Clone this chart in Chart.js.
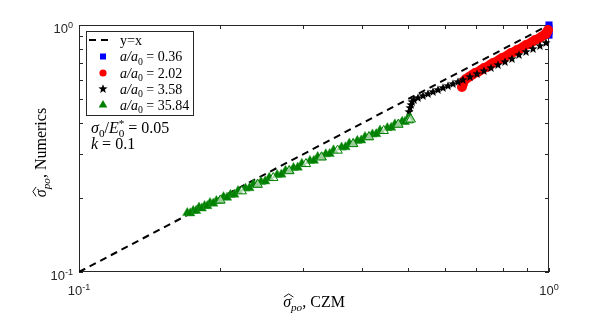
<!DOCTYPE html>
<html><head><meta charset="utf-8">
<script src="https://cdn.jsdelivr.net/npm/chart.js@4/dist/chart.umd.min.js"></script>
<style>html,body{margin:0;padding:0;background:#fff;}#wrap{width:606px;height:320px;position:relative;}</style>
</head><body><div id="wrap"><canvas id="c" width="606" height="320"></canvas></div>
<script>
// ---------- data ----------
const refLineX = [0.1, 1.0];
const refLineY = [0.1, 1.0];

const blueX = [1.0, 1.0, 1.0, 1.0];
const blueY = [1.0, 0.97, 0.94, 0.91];

const redX = [0.6528,0.6559,0.6592,0.6656,0.6755,0.6856,0.6958,0.7060,0.7165,0.7270,0.7379,0.7488,0.7599,0.7711,0.7826,0.7943,0.8059,0.8180,0.8299,0.8423,0.8548,0.8673,0.8803,0.8933,0.9064,0.9199,0.9336,0.9475,0.9616,0.9759,0.9854,0.9902,0.9952];
const redY = [0.5610,0.5768,0.5932,0.6045,0.6157,0.6274,0.6392,0.6451,0.6573,0.6696,0.6761,0.6886,0.7017,0.7081,0.7215,0.7351,0.7419,0.7558,0.7700,0.7778,0.7922,0.7994,0.8145,0.8299,0.8378,0.8534,0.8695,0.8775,0.8939,0.9110,0.9197,0.9369,0.9546];

const starX = [0.5036,0.5061,0.5086,0.5110,0.5161,0.5263,0.5393,0.5527,0.5664,0.5804,0.5948,0.6095,0.6246,0.6401,0.6559,0.6788,0.7025,0.7270,0.7524,0.7787,0.8059,0.8340,0.8631,0.8933,0.9245,0.9568,0.9854];
const starY = [0.4444,0.4613,0.4744,0.4879,0.4971,0.5064,0.5160,0.5256,0.5355,0.5456,0.5559,0.5662,0.5768,0.5877,0.5987,0.6157,0.6332,0.6511,0.6696,0.6886,0.7081,0.7282,0.7558,0.7778,0.7994,0.8222,0.8455];

const greenX = [0.170,0.175,0.180,0.185,0.190,0.196,0.203,0.210,0.218,0.226,0.235,0.244,0.254,0.264,0.275,0.286,0.298,0.310,0.322,0.335,0.348,0.362,0.376,0.391,0.406,0.421,0.437,0.453,0.470,0.487,0.500,0.506];
const greenY = [0.1735,0.1770,0.1825,0.1852,0.1905,0.1942,0.2012,0.2055,0.2130,0.2180,0.2265,0.2318,0.2410,0.2472,0.2570,0.2640,0.2745,0.2820,0.2925,0.3000,0.3112,0.3195,0.3315,0.3400,0.3525,0.3610,0.3742,0.3830,0.3965,0.4065,0.4170,0.4200];
const greenX2 = [0.1725,0.1775,0.1825,0.1875,0.193,0.1995,0.2065,0.214,0.2305,0.2395,0.249,0.2695,0.2805,0.292,0.316,0.3285,0.3415,0.369,0.3835,0.3985,0.4135,0.429,0.4615,0.4785,0.4935];
const greenY2 = [0.1730,0.1770,0.1810,0.1851,0.1894,0.1945,0.2001,0.2060,0.2188,0.2257,0.2330,0.2483,0.2565,0.2650,0.2825,0.2915,0.3009,0.3204,0.3305,0.3412,0.3513,0.3620,0.3841,0.3956,0.4055];
const greenOpenX = [0.200,0.222,0.240,0.259,0.280,0.304,0.328,0.355,0.383,0.414,0.445,0.478,0.503,0.508];
const greenOpenY = [0.195,0.2125,0.2260,0.2405,0.2565,0.2740,0.2915,0.3105,0.3300,0.3520,0.3730,0.3955,0.4120,0.4150];

const majorTicks = [0.1, 1];
const tickBase = ['10', '10'];
const tickExp = ['-1', '0'];
const minorTicks = [0.2,0.3,0.4,0.5,0.6,0.7,0.8,0.9];

const legendValues = ['0.36', '2.02', '3.58', '35.84'];

// ---------- helpers ----------
const pts = (xs, ys) => xs.map((x, i) => ({x, y: ys[i]}));
const SERIF = '"Liberation Serif","Times New Roman",serif';
const SANS = '"Liberation Sans",Helvetica,Arial,sans-serif';
const AX = '#262626';

function makeStar(R){
  const s = Math.ceil(R*2)+2;
  const cv = document.createElement('canvas');
  cv.width = s; cv.height = s;
  const g = cv.getContext('2d');
  const cx = s/2, cy = s/2, r = R*0.42;
  g.beginPath();
  for (let i = 0; i < 10; i++){
    const rr = i % 2 ? r : R;
    const a = -Math.PI/2 + i*Math.PI/5;
    const px = cx + rr*Math.cos(a), py = cy + rr*Math.sin(a);
    i ? g.lineTo(px, py) : g.moveTo(px, py);
  }
  g.closePath();
  g.fillStyle = '#000'; g.fill();
  return cv;
}
const starImg = makeStar(4.8);

// rich text: segs [{t, it, sub, sup, hold, hat}]
function rich(ctx, segs, x, y, size, align){
  const items = []; let cx = 0; let held = 0;
  for (const s of segs){
    const small = s.sub || s.sup;
    const sz = small ? size*0.7 : size;
    const f = (s.it ? 'italic ' : '') + sz + 'px ' + (s.sans ? SANS : SERIF);
    ctx.font = f;
    const w = ctx.measureText(s.t).width;
    const dy = s.sub ? size*0.25 : (s.sup ? -size*0.4 : 0);
    items.push({t: s.t, f, x: cx, dy, w, hat: s.hat});
    if (s.hold){ held = w; }
    else { cx += Math.max(w, held); held = 0; }
  }
  const total = cx;
  const x0 = align === 'center' ? x - total/2 : (align === 'right' ? x - total : x);
  for (const it of items){
    ctx.font = it.f;
    ctx.fillText(it.t, x0 + it.x, y + it.dy);
    if (it.hat){
      const hx = x0 + it.x + size*0.05, hw = it.w + size*0.1;
      ctx.save();
      ctx.strokeStyle = ctx.fillStyle; ctx.lineWidth = 0.9;
      ctx.beginPath();
      ctx.moveTo(hx, y - size*0.62);
      ctx.lineTo(hx + hw/2, y - size*0.82);
      ctx.lineTo(hx + hw, y - size*0.62);
      ctx.stroke();
      ctx.restore();
    }
  }
  return total;
}

const decor = {
  id: 'decor',
  beforeDatasetsDraw(chart){
    const {ctx, chartArea: a, scales} = chart;
    const xs = scales.x, ys = scales.y;
    ctx.save();
    ctx.strokeStyle = AX; ctx.lineWidth = 1;
    ctx.strokeRect(a.left + 0.5, a.top + 0.5, a.right - a.left - 1, a.bottom - a.top - 1);
    ctx.beginPath();
    const all = majorTicks.concat(minorTicks);
    const L = 4;
    for (const v of all){
      const px = Math.round(xs.getPixelForValue(v)) + 0.5;
      ctx.moveTo(px, a.bottom); ctx.lineTo(px, a.bottom - L);
      ctx.moveTo(px, a.top); ctx.lineTo(px, a.top + L);
      const py = Math.round(ys.getPixelForValue(v)) + 0.5;
      ctx.moveTo(a.left, py); ctx.lineTo(a.left + L, py);
      ctx.moveTo(a.right, py); ctx.lineTo(a.right - L, py);
    }
    ctx.stroke();
    ctx.restore();
  },
  afterDraw(chart){
    const {ctx, chartArea: a, scales} = chart;
    const xs = scales.x, ys = scales.y;
    ctx.save();
    ctx.fillStyle = AX;
    ctx.textBaseline = 'alphabetic';
    // tick labels
    majorTicks.forEach((v, i) => {
      const segs = [{t: tickBase[i], sans: true}, {t: tickExp[i], sup: true, sans: true}];
      const px = xs.getPixelForValue(v);
      rich(ctx, segs, px, a.bottom + 23, 13, 'center');
      const py = ys.getPixelForValue(v);
      rich(ctx, segs, a.left - 6, py + 8, 13, 'right');
    });
    // axis titles
    ctx.fillStyle = '#000';
    const xt = [{t: 'σ', it: true, hat: true}, {t: 'po', it: true, sub: true}, {t: ', CZM'}];
    rich(ctx, xt, (a.left + a.right)/2, 307, 16, 'center');
    ctx.save();
    ctx.translate(46, (a.top + a.bottom)/2 + 4);
    ctx.rotate(-Math.PI/2);
    const yt = [{t: 'σ', it: true, hat: true}, {t: 'po', it: true, sub: true}, {t: ', Numerics'}];
    rich(ctx, yt, 0, 0, 16, 'center');
    ctx.restore();

    // legend
    const bx = 86.5, by = 31.5, bw = 107, bh = 84;
    ctx.fillStyle = '#fff';
    ctx.fillRect(bx, by, bw, bh);
    ctx.strokeStyle = AX; ctx.lineWidth = 1;
    ctx.strokeRect(bx, by, bw, bh);
    const rowY = [40, 56.5, 73, 89, 105];
    const mX = 103, tX = 120;
    ctx.save();
    ctx.strokeStyle = '#000'; ctx.lineWidth = 2; ctx.setLineDash([7, 5]);
    ctx.beginPath(); ctx.moveTo(89, rowY[0]); ctx.lineTo(111, rowY[0]); ctx.stroke();
    ctx.restore();
    ctx.fillStyle = '#000';
    rich(ctx, [{t: 'y=x'}], tX, rowY[0] + 4.5, 14, 'left');
    ctx.fillStyle = '#0000ff';
    ctx.fillRect(mX - 3, rowY[1] - 3, 6, 6);
    ctx.fillStyle = '#ff0000';
    ctx.beginPath(); ctx.arc(mX, rowY[2], 3.6, 0, Math.PI*2); ctx.fill();
    ctx.drawImage(starImg, mX - starImg.width/2, rowY[3] - starImg.height/2);
    ctx.fillStyle = '#008000';
    ctx.beginPath();
    const tr = 5;
    ctx.moveTo(mX, rowY[4] - tr); ctx.lineTo(mX + tr*0.866, rowY[4] + tr*0.5); ctx.lineTo(mX - tr*0.866, rowY[4] + tr*0.5);
    ctx.closePath(); ctx.fill();
    ctx.fillStyle = '#000';
    legendValues.forEach((val, i) => {
      rich(ctx, [{t: 'a/a', it: true}, {t: '0', sub: true}, {t: ' = ' + val}], tX, rowY[i+1] + 4.5, 14, 'left');
    });
    // annotations
    rich(ctx, [{t: 'σ', it: true}, {t: '0', sub: true}, {t: '/'}, {t: 'E', it: true}, {t: '0', sub: true, hold: true}, {t: '*', sup: true}, {t: ' = 0.05'}], 91, 133, 16, 'left');
    rich(ctx, [{t: 'k', it: true}, {t: ' = 0.1'}], 91, 149, 16, 'left');
    ctx.restore();
  }
};

new Chart(document.getElementById('c'), {
  data: {
    datasets: [
      {type: 'line', label: 'y=x', data: pts(refLineX, refLineY), borderColor: '#000', borderWidth: 2, borderDash: [7, 5], pointRadius: 0, fill: false, order: 5},
      {type: 'scatter', label: 'a/a0 = 0.36', data: pts(blueX, blueY), pointStyle: 'rect', pointRadius: 5, backgroundColor: '#0000ff', borderWidth: 0, clip: false, order: 4},
      {type: 'scatter', label: 'a/a0 = 2.02', data: pts(redX, redY), pointStyle: 'circle', pointRadius: 5, backgroundColor: '#ff0000', borderWidth: 0, clip: false, order: 3},
      {type: 'scatter', label: 'a/a0 = 3.58', data: pts(starX, starY), pointStyle: starImg, clip: false, order: 2},
      {type: 'scatter', label: 'a/a0 = 35.84', data: pts(greenX.concat(greenX2), greenY.concat(greenY2)), pointStyle: 'triangle', pointRadius: 5.4, backgroundColor: '#008000', borderColor: '#2a9a2a', borderWidth: 0.5, clip: false, order: 1},
      {type: 'scatter', label: 'a/a0 = 35.84 (open)', data: pts(greenOpenX, greenOpenY), pointStyle: 'triangle', pointRadius: 5.4, backgroundColor: 'rgba(255,255,255,0.6)', borderColor: '#008000', borderWidth: 1, clip: false, order: 0}
    ]
  },
  options: {
    responsive: false,
    animation: false,
    devicePixelRatio: 1,
    layout: {padding: {left: 79, right: 57, top: 25, bottom: 48}},
    plugins: {legend: {display: false}, tooltip: {enabled: false}, title: {display: false}},
    scales: {
      x: {type: 'logarithmic', min: 0.1, max: 1, display: false},
      y: {type: 'logarithmic', min: 0.1, max: 1, display: false}
    }
  },
  plugins: [decor]
});
</script>
</body></html>
